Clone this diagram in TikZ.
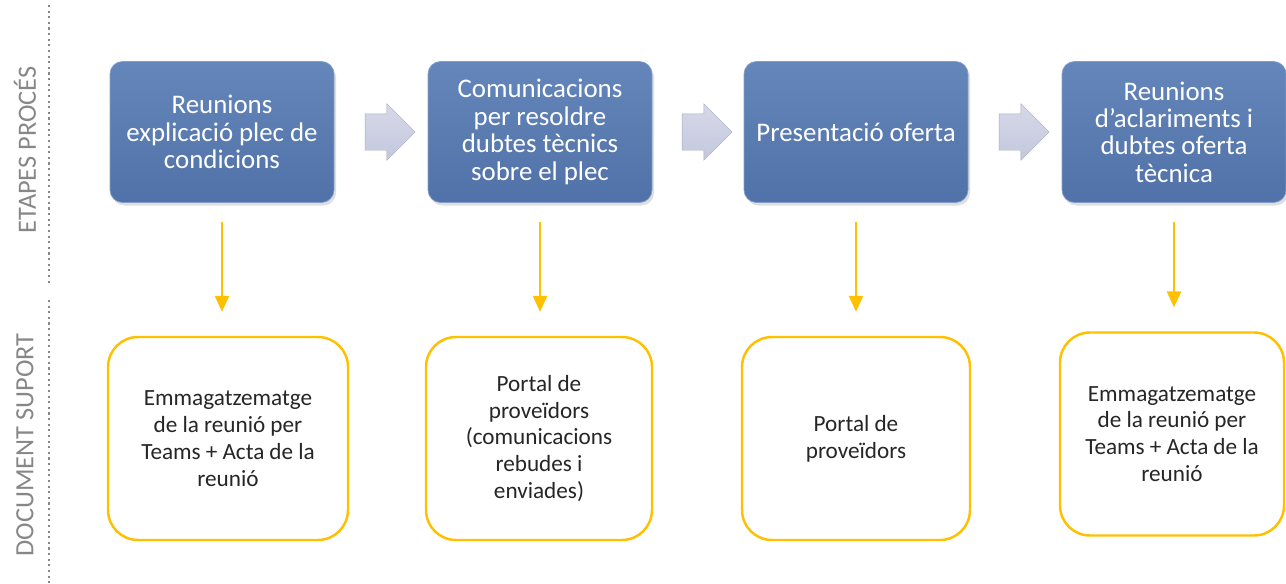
\documentclass[tikz,border=0pt]{standalone}
\usepackage{fontspec}
\setmainfont{Carlito}
\usetikzlibrary{positioning,shapes.arrows,arrows.meta,shadows}
\definecolor{stepblue}{RGB}{80,114,168}
\definecolor{stepblueLight}{RGB}{100,134,186}
\definecolor{arrowgrey}{RGB}{196,200,222}
\definecolor{docyellow}{RGB}{255,192,0}
\definecolor{sidegrey}{RGB}{135,135,135}
\newcommand\tightwords{\spaceskip 0.22em\relax}
\begin{document}
\begin{tikzpicture}

		\tikzstyle{stage}=[rectangle,rounded corners=2.5mm,
			top color=stepblueLight,bottom color=stepblue,draw=stepblueLight!80!white,thin,
			drop shadow={shadow xshift=0.4mm,shadow yshift=-0.6mm,opacity=0.25},
			minimum height=2.82cm,minimum width=4.48cm,text width=4.2cm,inner sep=1mm,
			align=center,text=white,font=\fontsize{15.3}{15.6}\selectfont,
			execute at begin node={\tightwords}]
		\tikzstyle{doc}=[rectangle,rounded corners=6mm,
			draw=docyellow,line width=1.4pt,fill=white,
			minimum height=4.06cm,minimum width=4.5cm,text width=3.8cm,inner sep=1mm,
			align=center,text=black!85,font=\fontsize{13.2}{15.3}\selectfont,
			execute at begin node={\tightwords}]
		\tikzstyle{blockarrow}=[single arrow,top color=arrowgrey!70!white,bottom color=arrowgrey,
			draw=arrowgrey!85!black,very thin,
			minimum height=1cm,inner xsep=0pt,inner ysep=0.36cm,single arrow head extend=0.2cm]
		\tikzstyle{feed}=[-{Triangle[width=8pt,length=9pt]},docyellow,line width=1.1pt,
			shorten <=3.8mm,shorten >=4.8mm]
		\tikzstyle{side}=[rotate=90,text=sidegrey,font=\fontsize{15}{15}\selectfont]

		\useasboundingbox (0,0) rectangle (25.72,-11.66);

		% etapes
		\node[stage] at (4.44,-2.64)	(s1)	{Reunions\\ explicació plec de\\ condicions};
		\node[stage] at (10.80,-2.64)	(s2)	{Comunicacions\\ per resoldre\\ dubtes tècnics\\ sobre el plec};
		\node[stage] at (17.12,-2.64)	(s3)	{Presentació oferta};
		\node[stage] at (21.48,-2.64)	(s4)	[xshift=2cm]	{Reunions\\ d’aclariments i\\ dubtes oferta\\ tècnica};

		\path (s1) -- node[blockarrow]{} (s2);
		\path (s2) -- node[blockarrow]{} (s3);
		\path (s3) -- node[blockarrow]{} (s4);

		% documents
		\node[doc,minimum width=4.8cm] at (4.56,-8.77)	(d1)	{Emmagatzematge\\ de la reunió per\\ Teams + Acta de la\\ reunió};
		\node[doc,minimum width=4.52cm] at (10.78,-8.77)	(d2)	{Portal de\\ proveïdors\\ (comunicacions\\ rebudes i\\ enviades)};
		\node[doc,minimum width=4.56cm] at (17.12,-8.77)	(d3)	{Portal de\\ proveïdors};
		\node[doc,minimum width=4.48cm] at (23.44,-8.68)	(d4)	{Emmagatzematge\\ de la reunió per\\ Teams + Acta de la\\ reunió};

		\draw[feed] (s1.south) -- (s1.south |- d1.north);
		\draw[feed] (s2.south) -- (s2.south |- d2.north);
		\draw[feed] (s3.south) -- (s3.south |- d3.north);
		\draw[feed] (s4.south) -- (s4.south |- d4.north);

		% marges
		\coordinate (t1) at (0.98,-0.10);
		\coordinate (t2) at (0.98,-5.70);
		\coordinate (t3) at (0.98,-6.00);
		\coordinate (t4) at (0.98,-11.66);
		\draw[sidegrey,dotted,line width=1.2pt] (t1) -- (t2);
		\draw[sidegrey,dotted,line width=1.2pt] (t3) -- (t4);
		\node[side] at (0.50,-3.00)	(etapes)	{ETAPES PROCÉS};
		\node[side] at (0.50,-8.90)	(suport)	{DOCUMENT SUPORT};

	\end{tikzpicture}
\end{document}
